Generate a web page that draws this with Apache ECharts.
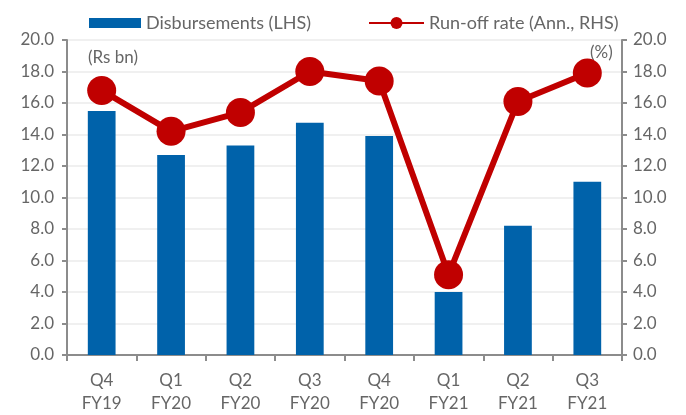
<!DOCTYPE html>
<html>
<head>
<meta charset="utf-8">
<script src="https://cdn.jsdelivr.net/npm/echarts@6/dist/echarts.min.js"></script>
<style>
    html, body { margin: 0; padding: 0; background: #fff; }
    #chart { width: 686px; height: 415px; }
</style>
</head>
<body>
<div id="chart"></div>
<script>
// 季度
var quarters = ['Q4\nFY19', 'Q1\nFY20', 'Q2\nFY20', 'Q3\nFY20', 'Q4\nFY20', 'Q1\nFY21', 'Q2\nFY21', 'Q3\nFY21'];
// Disbursements (Rs bn)
var disbursements = [15.5, 12.7, 13.3, 14.75, 13.9, 4.0, 8.2, 11.0];
// Run-off rate (%)
var runOffRate = [16.8, 14.2, 15.4, 18.0, 17.4, 5.1, 16.1, 17.9];

var textColor = '#666666';
var axisColor = '#8c8c8c';

var myChart = echarts.init(document.getElementById('chart'));

var option = {
    animation: false,
    textStyle: { fontFamily: 'Lato', color: textColor },
    legend: [{
        top: 9,
        left: 84,
        itemWidth: 52,
        itemHeight: 10,
        textStyle: { fontSize: 18, color: textColor, fontFamily: 'Lato' },
        data: [{ name: 'Disbursements (LHS)', icon: 'rect' }]
    }, {
        top: 9,
        left: 363,
        itemWidth: 55,
        itemHeight: 15,
        textStyle: { fontSize: 18, color: textColor, fontFamily: 'Lato' },
        data: [{ name: 'Run-off rate (Ann., RHS)' }]
    }],
    grid: {
        left: 67,
        right: 64,
        top: 40,
        bottom: 59
    },
    graphic: [
        { type: 'text', left: 88, top: 49, style: { text: '(Rs bn)', fontSize: 17, fill: textColor, fontFamily: 'Lato' } },
        { type: 'text', left: 590, top: 44, style: { text: '(%)', fontSize: 17, fill: textColor, fontFamily: 'Lato' } }
    ],
    xAxis: {
        type: 'category',
        data: quarters,
        axisLine: { lineStyle: { color: axisColor, width: 2 } },
        axisTick: { show: true, length: 6, lineStyle: { color: axisColor, width: 2 } },
        axisLabel: { fontSize: 17, color: textColor, lineHeight: 23, margin: 14 }
    },
    yAxis: [{
        type: 'value',
        min: 0,
        max: 20,
        interval: 2,
        axisLine: { show: true, lineStyle: { color: axisColor, width: 2 } },
        axisTick: { show: true, inside: false, length: 5, lineStyle: { color: axisColor, width: 2 } },
        axisLabel: {
            fontSize: 17, color: textColor, margin: 13,
            formatter: function (v) { return v.toFixed(1); }
        },
        splitLine: { show: true, lineStyle: { color: '#f0f0f0', width: 2 } }
    }, {
        type: 'value',
        min: 0,
        max: 20,
        interval: 2,
        position: 'right',
        axisLine: { show: true, lineStyle: { color: axisColor, width: 2 } },
        axisTick: { show: true, inside: false, length: 5, lineStyle: { color: axisColor, width: 2 } },
        axisLabel: {
            fontSize: 17, color: textColor, margin: 11,
            formatter: function (v) { return v.toFixed(1); }
        },
        splitLine: { show: false }
    }],
    series: [{
        name: 'Disbursements (LHS)',
        type: 'bar',
        barWidth: '40%',
        itemStyle: { color: '#0062AA' },
        data: disbursements
    }, {
        name: 'Run-off rate (Ann., RHS)',
        type: 'line',
        yAxisIndex: 1,
        symbol: 'circle',
        symbolSize: 29,
        lineStyle: { color: '#C00000', width: 6 },
        itemStyle: { color: '#C00000' },
        data: runOffRate
    }]
};
myChart.setOption(option);
</script>
</body>
</html>
